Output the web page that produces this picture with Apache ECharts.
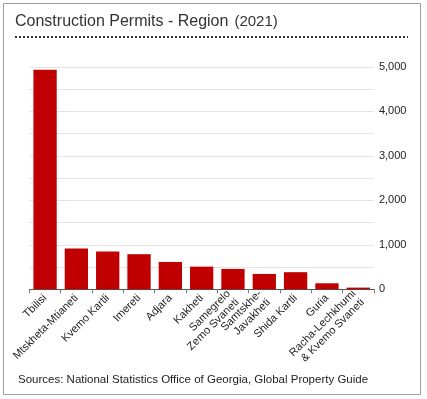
<!DOCTYPE html>
<html>
<head>
<meta charset="utf-8">
<script src="https://cdn.jsdelivr.net/npm/echarts@6/dist/echarts.min.js"></script>
<style>
html,body{margin:0;padding:0;background:#fff;}
#chart{width:427px;height:399px;}
</style>
</head>
<body>
<div id="chart"></div>
<script>
const categories = ['Tbilisi','Mtskheta-Mtianeti','Kvemo Kartli','Imereti','Adjara','Kakheti','Samegrelo\nZemo Svaneti','Samtskhe-\nJavakheti','Shida Kartli','Guria','Racha-Lechkhumi\n& Kvemo Svaneti'];
const permits = [4940, 916, 850, 790, 615, 510, 458, 345, 385, 135, 38];
const titleMain = 'Construction Permits - Region';
const titleYear = '(2021)';
const sourceText = 'Sources: National Statistics Office of Georgia, Global Property Guide';

const FONT = 'Liberation Sans';
const chart = echarts.init(document.getElementById('chart'), null, {renderer:'canvas'});
chart.setOption({
  animation:false,
  backgroundColor:'#fff',
  textStyle:{fontFamily:FONT},
  grid:{left:29.4, right:53.1, top:67, bottom:109.7, outerBoundsMode:'none'},
  xAxis:{
    type:'category',
    data:categories,
    axisLine:{lineStyle:{color:'#555',width:1}},
    axisTick:{show:true,length:4,lineStyle:{color:'#777'}},
    axisLabel:{rotate:45,fontSize:11,color:'#222',fontFamily:FONT,margin:7,interval:0,lineHeight:12}
  },
  yAxis:{
    type:'value',
    position:'right',
    min:0,max:5000,interval:500,
    axisLine:{show:false},
    axisTick:{show:false},
    splitLine:{lineStyle:{color:'#e4e4e4',width:1}},
    axisLabel:{fontSize:11,color:'#222',fontFamily:FONT,margin:5,
      formatter:function(v){return v%1000===0?v.toLocaleString('en-US'):'';}}
  },
  series:[{
    type:'bar',
    data:permits,
    barWidth:23.3,
    itemStyle:{color:'#c00000'}
  }],
  graphic:[
    {type:'rect',shape:{x:3.5,y:3.5,width:417,height:391},style:{fill:'none',stroke:'#a0a0a0',lineWidth:1},silent:true},
    {type:'text',left:15,top:14,style:{
      text:'{a|'+titleMain+'}{s| }{b|'+titleYear+'}',
      rich:{a:{fontSize:16,fontFamily:FONT,fill:'#333'},s:{fontSize:16,width:6},b:{fontSize:15,fontFamily:FONT,fill:'#333'}}
    }},
    {type:'line',shape:{x1:15,y1:37,x2:408,y2:37},style:{stroke:'#333',lineWidth:2,lineDash:[2,2]}},
    {type:'text',left:18,top:374,style:{text:sourceText,fontSize:11.5,fontFamily:FONT,fill:'#222'}}
  ]
});
</script>
</body>
</html>
